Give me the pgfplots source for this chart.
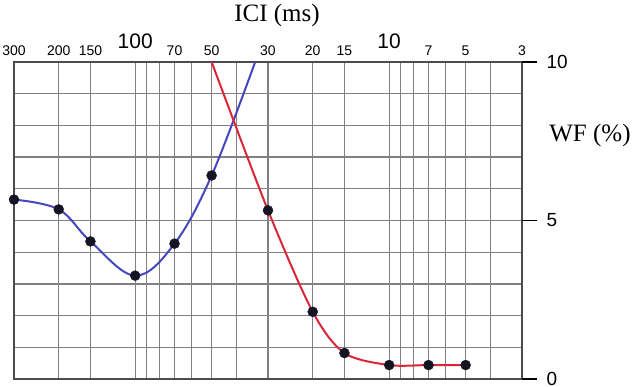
\documentclass[border=0pt]{standalone}
\usepackage{pgfplots}
\pgfplotsset{compat=1.18}
\usepackage{fontspec}
\setmainfont{Liberation Serif}
\newfontfamily\arial{Liberation Sans}
\definecolor{gridgray}{RGB}{128,128,128}
\definecolor{bluecurve}{RGB}{70,70,190}
\definecolor{redcurve}{RGB}{218,38,55}
\definecolor{markc}{RGB}{20,20,35}
\begin{document}
\begin{tikzpicture}
\useasboundingbox (0pt,0pt) rectangle (640pt,386pt);
\begin{axis}[
  at={(14pt,7pt)}, anchor=south west,
  scale only axis, width=508pt, height=317pt,
  xmode=log, x dir=reverse,
  xmin=3, xmax=300, ymin=0, ymax=10,
  xtick={300,200,150,100,90,80,70,60,50,40,30,20,15,10,9,8,7,6,5,4,3},
  xticklabels={300,200,150,{\raisebox{7pt}{\fontsize{21}{21}\selectfont 100}},,,70,,50,,30,20,15,{\raisebox{7pt}{\fontsize{21}{21}\selectfont 10}},,,7,,5,,3},
  xticklabel pos=upper,
  xticklabel style={font=\arial\fontsize{14}{14}\selectfont, anchor=south, yshift=3pt},
  ytick={0,1,2,3,4,5,6,7,8,9,10},
  yticklabels={0,,,,,5,,,,,10},
  yticklabel pos=right,
  yticklabel style={font=\arial\fontsize{19}{19}\selectfont, anchor=west, xshift=21pt},
  major tick length=0pt,
  xmajorgrids, ymajorgrids,
  grid style={gridgray, line width=1.2pt},
  axis line style={black!70, line width=1.5pt},
  extra y ticks={0,5,10},
  extra y tick labels={},
  extra y tick style={major tick length=15pt, tick align=outside, ytick pos=right, grid=none, tick style={black, line width=1.6pt}},
  clip=true,
]
\addplot[bluecurve, line width=2pt, smooth, tension=0.6] coordinates {
 (300,5.66) (200,5.35) (150,4.34) (100,3.26) (70,4.27) (50,6.42) (33.7,10)
};
\addplot[redcurve, line width=2pt, smooth, tension=0.5] coordinates {
 (50,10) (30,5.32) (20,2.12) (15,0.82) (10,0.44) (7,0.44) (5,0.44)
};
\addplot[only marks, mark=*, mark size=5pt, mark options={fill=markc, draw=markc}] coordinates {
 (300,5.66) (200,5.35) (150,4.34) (100,3.26) (70,4.27) (50,6.42)
 (30,5.32) (20,2.12) (15,0.82) (10,0.44) (7,0.44) (5,0.44)
};
\end{axis}
\node[font=\fontsize{25}{25}\selectfont, anchor=center] at (277pt,371pt) {ICI (ms)};
\node[font=\fontsize{25}{25}\selectfont, anchor=center] at (590pt,251pt) {WF (\%)};
\end{tikzpicture}
\end{document}
